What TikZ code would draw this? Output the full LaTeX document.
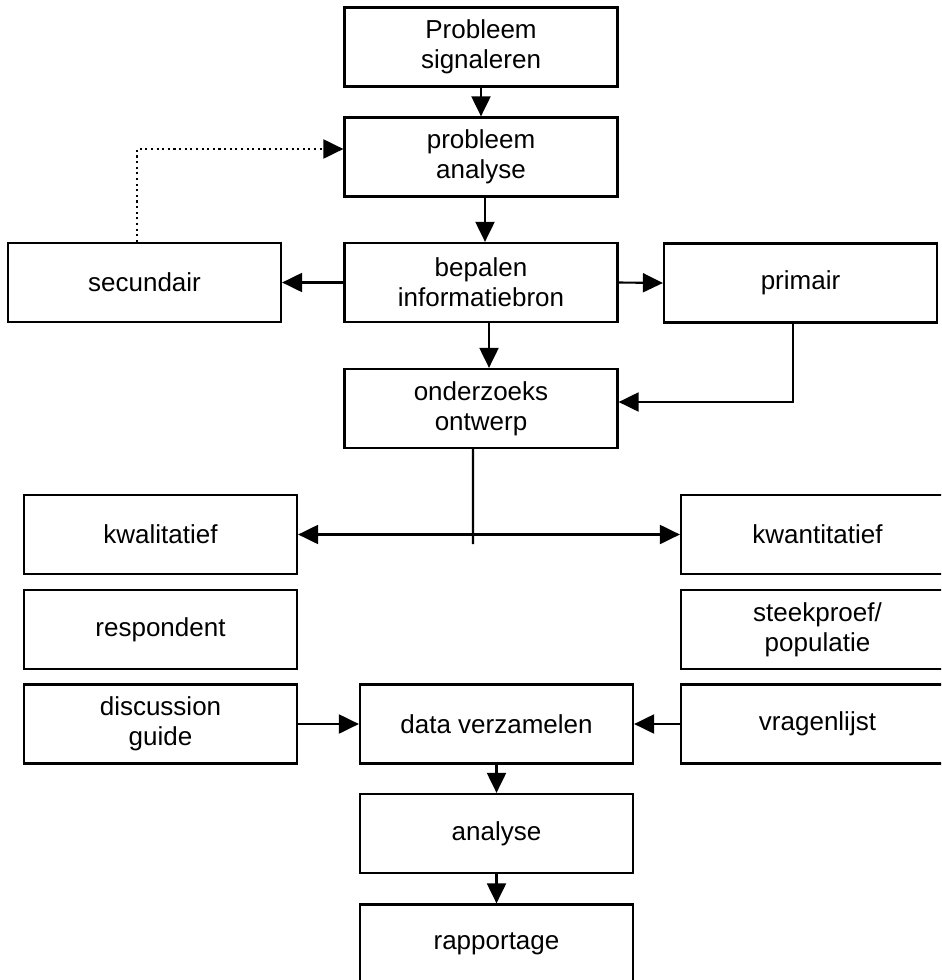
\documentclass[tikz,border=0pt]{standalone}
\usepackage{fontspec}
\setmainfont{Liberation Sans}
\usetikzlibrary{arrows.meta,calc}

\begin{document}
\begin{tikzpicture}[x=0.02cm, y=-0.02cm,
  box/.style={draw, line width=1.3pt, minimum width=5.46cm, minimum height=1.58cm,
    inner sep=0pt, align=center, font=\fontsize{14.8}{17}\selectfont},
  arr/.style={line width=1.2pt, -{Triangle[length=0.4cm, width=0.38cm]}}]

% Page size and cut-off at the right and bottom
\useasboundingbox (0,0) rectangle (941,980);
\clip (0,0) rectangle (941,980);

% Main chain
\node[box] (sig) at (481,47) {Probleem\\signaleren};
\node[box] (ana) at (481,157) {probleem\\analyse};
\node[box] (bep) at (481,282.5) {bepalen\\informatiebron};
\node[box] (ond) at (481,408.5) {onderzoeks\\ontwerp};

% Sources
\node[box] (sec) at (144.5,282.5) {secundair};
\node[box] (prim) at (800.5,283) {primair};

% Left column
\node[box] (kwal) at (160.5,534.5) {kwalitatief};
\node[box] (resp) at (160.5,629.5) {respondent};
\node[box] (disc) at (160.5,724) {discussion\\guide};

% Right column
\node[box] (kwan) at (817.5,534.5) {kwantitatief};
\node[box] (steek) at (817.5,629.5) {steekproef/\\populatie};
\node[box] (vrag) at (817.5,724) {vragenlijst};

% Lower chain
\node[box] (data) at (496.5,724) {data verzamelen};
\node[box] (anl) at (496.5,833.5) {analyse};
\node[box] (rap) at (496.5,944) {rapportage};

% Arrows down the main chain
\draw[arr] (sig.south) -- (ana.north);
\draw[arr] ([xshift=0.08cm]ana.south) -- ([xshift=0.08cm]bep.north);
\draw[arr] ([xshift=0.16cm]bep.south) -- ([xshift=0.16cm]ond.north);

% Arrows to the sources
\draw[arr] (bep.west) -- (sec.east);
\draw[arr] (bep.east) -- (prim.west);
\draw[arr] ([xshift=-0.15cm]prim.south) |- ([yshift=0.13cm]ond.east);
\draw[arr, dotted] ([xshift=-0.15cm]sec.north) |- ([yshift=0.16cm]ana.west);

% Split into kwalitatief and kwantitatief
\coordinate (stem) at ($(ond.south)+(-8,95)$);
\draw[line width=1.2pt] ([xshift=-0.16cm]ond.south) -- (stem);
\draw[arr, {Triangle[length=0.4cm, width=0.38cm]}-{Triangle[length=0.4cm, width=0.38cm]}] (kwal.east) -- (kwan.west);

% Into data verzamelen and on
\draw[arr] (disc.east) -- (data.west);
\draw[arr] (vrag.west) -- (data.east);
\draw[arr] (data.south) -- (anl.north);
\draw[arr] (anl.south) -- (rap.north);

\end{tikzpicture}
\end{document}
